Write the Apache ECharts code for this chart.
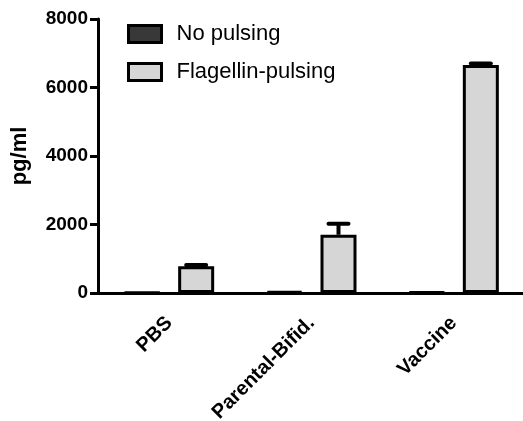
<!DOCTYPE html>
<html>
<head>
<meta charset="utf-8">
<script src="https://cdn.jsdelivr.net/npm/echarts@6/dist/echarts.min.js"></script>
<style>
  html, body { margin: 0; padding: 0; background: #fff; }
  #main { width: 523px; height: 421px; }
</style>
</head>
<body>
<div id="main"></div>
<script>
// data
var groups = ["PBS", "Parental-Bifid.", "Vaccine"];
var noPulsing = [20, 45, 25];
var flagellin = [780, 1700, 6660];
var flagellinErr = [820, 2020, 6700]; // top of the error bar (mean + SEM)
var yTicks = [0, 2000, 4000, 6000, 8000];

var chartDom = document.getElementById("main");
var myChart = echarts.init(chartDom, null, { renderer: "canvas" });

var barW = 36;
var barOffset = 27; // half the distance between the two bar centres

var errData = groups.map(function (g, i) {
  return [i, flagellin[i], flagellinErr[i]];
});

var option = {
  animation: false,
  backgroundColor: "#fff",
  textStyle: { fontFamily: "Arial, 'Liberation Sans', sans-serif" },
  grid: { left: 98, right: -2, top: 19, bottom: 128, outerBoundsMode: "none" },
  legend: {
    orient: "vertical",
    left: 127,
    top: 23,
    padding: 0,
    icon: "rect",
    itemWidth: 33,
    itemHeight: 17,
    itemGap: 16,
    itemStyle: { borderColor: "#000", borderWidth: 3 },
    textStyle: { fontSize: 22, color: "#000", padding: [0, 0, 0, 10] },
    data: ["No pulsing", "Flagellin-pulsing"]
  },
  xAxis: {
    type: "category",
    data: groups,
    axisLine: { lineStyle: { color: "#000", width: 3 } },
    axisTick: { alignWithLabel: true, length: 8, lineStyle: { color: "#000", width: 3 } },
    axisLabel: {
      rotate: 45,
      margin: 27,
      fontSize: 20,
      fontWeight: "bold",
      color: "#000"
    }
  },
  yAxis: {
    type: "value",
    min: 0,
    max: 8000,
    interval: 2000,
    name: "pg/ml",
    nameLocation: "middle",
    nameGap: 67,
    nameTextStyle: { fontSize: 22, fontWeight: "bold", color: "#000" },
    axisLine: { show: true, lineStyle: { color: "#000", width: 3 } },
    axisTick: { show: true, length: 8, lineStyle: { color: "#000", width: 3 } },
    axisLabel: {
      margin: 10,
      fontSize: 19,
      fontWeight: "bold",
      color: "#000",
      formatter: function (v) { return yTicks.indexOf(v) >= 0 ? String(v) : ""; }
    },
    splitLine: { show: false }
  },
  series: [
    {
      name: "No pulsing",
      type: "bar",
      data: noPulsing,
      barWidth: barW,
      barGap: "50%",
      itemStyle: { color: "#383838", borderColor: "#000", borderWidth: 3 }
    },
    {
      name: "Flagellin-pulsing",
      type: "bar",
      data: flagellin,
      barWidth: barW,
      itemStyle: { color: "#d6d6d6", borderColor: "#000", borderWidth: 3 }
    },
    {
      // upward error bars on the flagellin bars
      type: "custom",
      name: "err",
      data: errData,
      z: 1,
      renderItem: function (params, api) {
        var base = api.coord([api.value(0), api.value(1)]);
        var top = api.coord([api.value(0), api.value(2)]);
        var x = base[0] + barOffset;
        var half = 10;
        return {
          type: "group",
          children: [
            {
              type: "line",
              shape: { x1: x, y1: base[1], x2: x, y2: top[1] },
              style: { stroke: "#000", lineWidth: 4 }
            },
            {
              type: "line",
              shape: { x1: x - half, y1: top[1], x2: x + half, y2: top[1] },
              style: { stroke: "#000", lineWidth: 4, lineCap: "round" }
            }
          ]
        };
      }
    }
  ]
};

option && myChart.setOption(option);
</script>
</body>
</html>
